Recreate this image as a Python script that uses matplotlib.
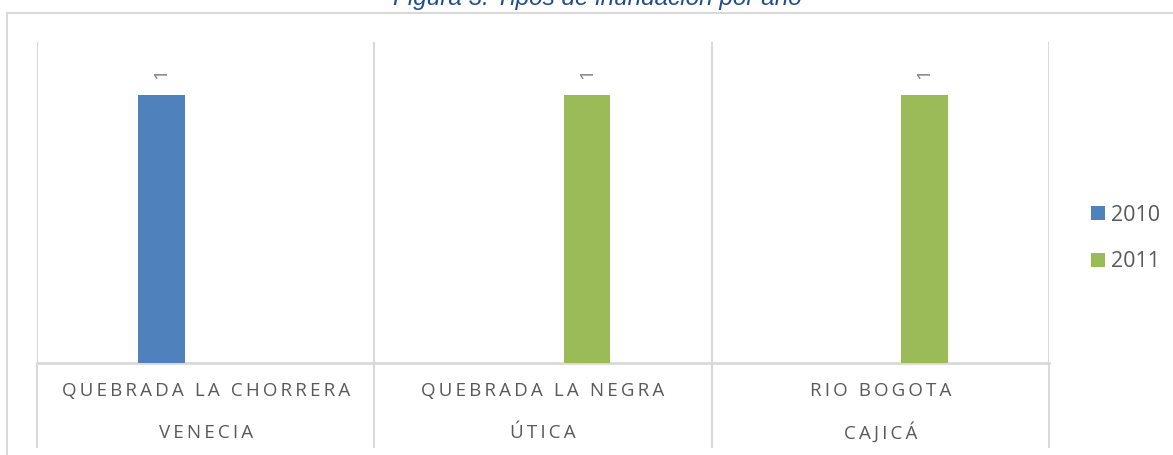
import matplotlib
matplotlib.use("Agg")
import matplotlib.pyplot as plt
from matplotlib.lines import Line2D
from matplotlib.patches import Patch
import numpy as np

# ---------------------------------------------------------
# Data
# ---------------------------------------------------------
title = "Figura 3. Tipos de inundación por año"
places = ["QUEBRADA LA CHORRERA", "QUEBRADA LA NEGRA", "RIO BOGOTA"]
towns = ["VENECIA", "ÚTICA", "CAJICÁ"]
years = ["2010", "2011"]
vals_2010 = [1, None, None]
vals_2011 = [None, 1, 1]

# Styles
colors = ["#4F81BD", "#9BBB59"]
grid_c = "#D9D9D9"
text_c = "#595959"
W, H = 1173, 455
fam = ["Open Sans", "DejaVu Sans"]


def spaced(s):
    # letter spacing, the way the office chart shows it (thin spaces)
    return "\u2009".join(list(s))


fig = plt.figure(figsize=(W / 100, H / 100), dpi=100)
ax = fig.add_axes([37 / W, 1 - 362.7 / H, (1049 - 37) / W, (362.7 - 42) / H])

x = np.arange(len(places))
offset, width = 0.131, 0.137
for vals, col, yr, off in zip([vals_2010, vals_2011], colors, years, [-offset, offset]):
    xs = [xi + off for xi, v in zip(x, vals) if v is not None]
    ys = [v for v in vals if v is not None]
    ax.bar(xs, ys, width=width, color=col, label=yr, zorder=3)
    for xi, v in zip(xs, ys):
        ax.annotate(f"{v}", (xi, v), xytext=(0, 16), textcoords="offset points",
                    ha="center", va="center", rotation=90, color="#808080",
                    fontsize=14, family=fam)

ax.set_xlim(-0.5, len(places) - 0.5)
ax.set_ylim(0, 1.2)
ax.set_yticks([])
ax.set_xticks([])
ax.set_xticks(np.arange(len(places) + 1) - 0.5, minor=True)
ax.tick_params(axis="x", which="minor", length=61, width=1.5, color=grid_c, direction="out")
ax.set_xticklabels([], minor=True)
ax.grid(axis="x", which="minor", color=grid_c, linewidth=1.5, zorder=0)
for s in ["top", "left", "right"]:
    ax.spines[s].set_visible(False)
ax.spines["bottom"].set_color(grid_c)
ax.spines["bottom"].set_linewidth(2)

tr = ax.get_xaxis_transform()
for xi, p, t in zip(x, places, towns):
    ax.text(xi, -0.088, spaced(p), transform=tr, ha="center", va="center",
            color=text_c, fontsize=13.5, family=fam)
    ax.text(xi, -0.218, spaced(t), transform=tr, ha="center", va="center",
            color=text_c, fontsize=13.5, family=fam)

# legend
handles = [Patch(facecolor=c, edgecolor="none") for c in colors]
fig.legend(handles, years, loc="center left", bbox_to_anchor=(1091 / W, 1 - 238.5 / H),
           frameon=False, prop={"family": "Open Sans", "size": 15.5},
           handlelength=0.65, handleheight=0.65, handletextpad=0.3,
           labelspacing=1.19, borderpad=0, borderaxespad=0, labelcolor=text_c)

# chart border (only top and left are inside the crop)
fig.add_artist(Line2D([7 / W, 1], [1 - 12.7 / H, 1 - 12.7 / H], color=grid_c, lw=1.5))
fig.add_artist(Line2D([7 / W, 7 / W], [0, 1 - 12.7 / H], color=grid_c, lw=1.5))

# title, cut at the top like the source
fig.text(597 / W, 1 - 5.5 / H, title, ha="center", va="baseline", style="italic",
         color="#1F4E8C", fontsize=17.5, family="Liberation Sans")

fig.savefig("out.png", dpi=100)
